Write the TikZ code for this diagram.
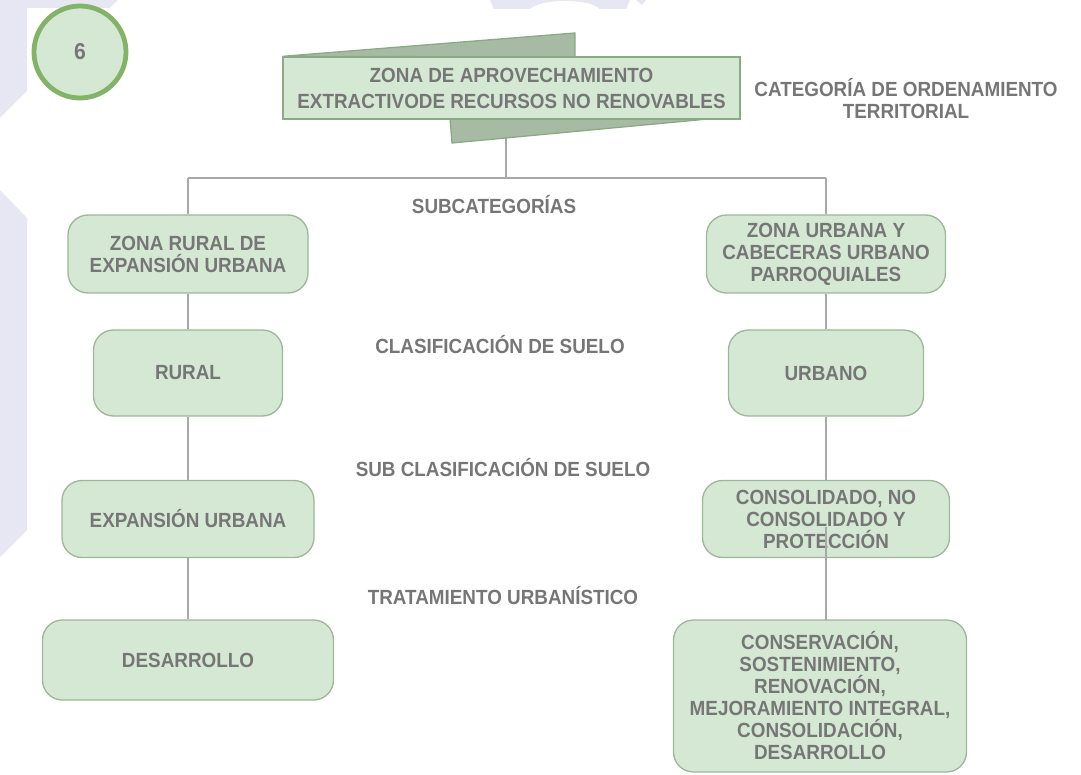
\documentclass[tikz,border=0pt]{standalone}
\usepackage{fontspec}
\setmainfont{Liberation Sans}[FakeStretch=0.92]
\usetikzlibrary{backgrounds}
\definecolor{boxfill}{HTML}{D5E8D4}
\definecolor{boxline}{HTML}{9CB898}
\definecolor{circline}{HTML}{82B366}
\definecolor{tabfill}{HTML}{A7BBA4}
\definecolor{tabline}{HTML}{8AAA86}
\definecolor{txt}{HTML}{767676}
\definecolor{connc}{HTML}{A8A8A8}
\definecolor{lav}{HTML}{E7E7F4}
\begin{document}
\begin{tikzpicture}[x=1pt,y=-1pt,
  box/.style={draw=boxline, line width=1.3pt, fill=boxfill, rounded corners=20pt,
    align=center, text=txt, font=\bfseries\fontsize{20.5}{22}\selectfont, inner sep=0pt},
  lbl/.style={align=center, text=txt, font=\bfseries\fontsize{20.5}{22}\selectfont, inner sep=0pt},
  connector/.style={draw=connc, line width=1.8pt}]
\useasboundingbox (0,0) rectangle (1081,775);

% nodes
\node[circle, draw=circline, line width=4.8pt, fill=boxfill, minimum size=92pt,
  text=txt, font=\bfseries\fontsize{23}{26}\selectfont] (num) at (80,52) {6};

\node[draw=tabline, fill=boxfill, line width=1.3pt, minimum width=457pt, minimum height=62pt,
  align=center, text=txt, font=\bfseries\fontsize{20.5}{26}\selectfont, inner sep=0pt]
  (top) at (511.5,88) {ZONA DE APROVECHAMIENTO\\EXTRACTIVODE RECURSOS NO RENOVABLES};

\node[lbl] (cat) at (906,99) {CATEGORÍA DE ORDENAMIENTO\\TERRITORIAL};
\node[lbl] (sub) at (494,205) {SUBCATEGORÍAS};
\node[lbl] (cla) at (500,345) {CLASIFICACIÓN DE SUELO};
\node[lbl] (scla) at (503,468) {SUB CLASIFICACIÓN DE SUELO};
\node[lbl] (tra) at (503,596) {TRATAMIENTO URBANÍSTICO};

\node[box, minimum width=240pt, minimum height=78pt] (zr) at (188,254) {ZONA RURAL DE\\EXPANSIÓN URBANA};
\node[box, minimum width=189pt, minimum height=86pt] (rural) at (188,373) {RURAL};
\node[box, minimum width=252pt, minimum height=77pt] (exp) at (188,519) {EXPANSIÓN URBANA};
\node[box, minimum width=291pt, minimum height=80pt] (des) at (188,660) {DESARROLLO};

\node[box, minimum width=239pt, minimum height=78pt] (zu) at (826,254) {ZONA URBANA Y\\CABECERAS URBANO\\PARROQUIALES};
\node[box, minimum width=195pt, minimum height=86pt] (urb) at (826,373) {URBANO};
\node[box, minimum width=247pt, minimum height=77pt] (cons) at (826,519) {CONSOLIDADO, NO\\CONSOLIDADO Y\\PROTECCIÓN};
\node[box, minimum width=293pt, minimum height=152pt] (conser) at (820,696) {CONSERVACIÓN,\\SOSTENIMIENTO,\\RENOVACIÓN,\\MEJORAMIENTO INTEGRAL,\\CONSOLIDACIÓN,\\DESARROLLO};

\coordinate (hub) at (506,178);
\coordinate (hl) at (188,178);
\coordinate (hr) at (826,178);
\coordinate (inside) at (826,527);
\coordinate (conserTop) at (826,620);

% line visible over the lower part of the consolidado box
\draw[connector] (inside) -- (conserTop);

\begin{pgfonlayer}{background}
  % page decoration
  \fill[lav] (0,0) -- (118,0) -- (0,118) -- cycle;
  \fill[lav] (0,190) -- (27,218) -- (27,530) -- (0,557) -- cycle;
  \fill[lav] (490,0) -- (630,0) -- (626,9) -- (494,9) -- cycle;
  \fill[white] (565,12) ellipse (36pt and 11pt);
  \fill[lav] (636,0) -- (646,0) -- (642,5) -- cycle;
  \fill[white] (27,8) rectangle (128,108);
  % connectors
  \draw[connector] ([xshift=-5.5pt]top.south) -- (hub);
  \draw[connector] (hl) -- (hr);
  \draw[connector] (hl) -- (zr.north);
  \draw[connector] (hr) -- (zu.north);
  \draw[connector] (zr) -- (rural);
  \draw[connector] (rural) -- (exp);
  \draw[connector] (exp) -- (des);
  \draw[connector] (zu) -- (urb);
  \draw[connector] (urb) -- (cons);
  % banner tabs
  \filldraw[fill=tabfill, draw=tabline, line width=1.3pt] (top.north west) -- (575,33) -- (575,57) -- cycle;
  \filldraw[fill=tabfill, draw=tabline, line width=1.3pt] (450,118) -- (452,143) -- (740,116) -- cycle;
\end{pgfonlayer}
\end{tikzpicture}
\end{document}
